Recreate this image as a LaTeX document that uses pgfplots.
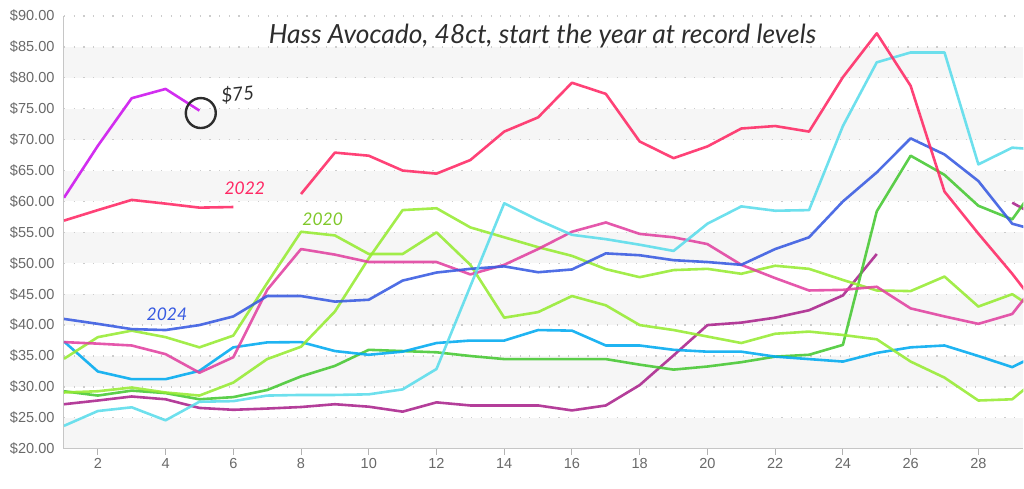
\documentclass[border=0pt]{standalone}
\usepackage{fontspec}
\setmainfont{Liberation Sans}
\newfontfamily\hand{Lato}
\usepackage{pgfplots}
\pgfplotsset{compat=1.18}
\definecolor{cViolet}{RGB}{204,17,238}
\definecolor{cRed}{RGB}{255,40,100}
\definecolor{cCyan}{RGB}{90,220,235}
\definecolor{cBlue}{RGB}{55,90,225}
\definecolor{cLime}{RGB}{150,235,50}
\definecolor{cPink}{RGB}{225,65,160}
\definecolor{cSky}{RGB}{0,170,240}
\definecolor{cGreen}{RGB}{70,200,50}
\definecolor{cPlum}{RGB}{170,35,140}
\definecolor{band}{RGB}{246,246,246}
\definecolor{tickgray}{RGB}{105,105,105}
\definecolor{inkgray}{RGB}{45,45,45}
\begin{document}
\begin{tikzpicture}
\path (0,0) rectangle (1024bp,489bp);
\begin{axis}[
  set layers=standard,
  at={(64bp,40bp)}, anchor=south west,
  scale only axis, width=960bp, height=433bp,
  xmin=1, xmax=29.33, ymin=20, ymax=90,
  axis x line*=bottom, axis y line*=left,
  axis line style={draw=gray!45, line width=1bp},
  ytick={20,25,...,90},
  yticklabels={\$20.00,\$25.00,\$30.00,\$35.00,\$40.00,\$45.00,\$50.00,\$55.00,\$60.00,\$65.00,\$70.00,\$75.00,\$80.00,\$85.00,\$90.00},
  xtick={2,4,...,28},
  xticklabels={2,4,6,8,10,12,14,16,18,20,22,24,26,28},
  ymajorgrids,
  major grid style={draw=gray!40, line width=1.2bp, dash pattern=on 1.2bp off 8.5bp},
  y tick style={draw=none},
  x tick style={draw=gray!60, line width=1bp},
  tick align=outside, major tick length=6bp,
  tick label style={font=\fontsize{14.6}{16}\selectfont, text=tickgray},
  unbounded coords=jump,
  every axis plot/.append style={line width=2.6bp, opacity=0.88, line join=round},
]
\begin{pgfonlayer}{axis background}
\fill[band] (axis cs:1,20) rectangle (axis cs:29.33,25);
\fill[band] (axis cs:1,30) rectangle (axis cs:29.33,35);
\fill[band] (axis cs:1,40) rectangle (axis cs:29.33,45);
\fill[band] (axis cs:1,50) rectangle (axis cs:29.33,55);
\fill[band] (axis cs:1,60) rectangle (axis cs:29.33,65);
\fill[band] (axis cs:1,70) rectangle (axis cs:29.33,75);
\fill[band] (axis cs:1,80) rectangle (axis cs:29.33,85);
\end{pgfonlayer}

% plum
\addplot[cPlum] coordinates {(1,27.2)(2,27.8)(3,28.45)(4,28.0)(5,26.6)(6,26.3)(7,26.5)(8,26.75)(9,27.2)(10,26.8)(11,26.0)(12,27.5)(13,27.0)(14,27.0)(15,27.0)(16,26.2)(17,27.0)(18,30.3)(19,35.1)(20,40.0)(21,40.4)(22,41.2)(23,42.4)(24,44.8)(25,51.5)};
\addplot[cPlum] coordinates {(29,59.8)(30,56.8)};
% green
\addplot[cGreen] coordinates {(1,29.3)(2,28.6)(3,29.4)(4,29.0)(5,28.0)(6,28.35)(7,29.5)(8,31.7)(9,33.4)(10,36.0)(11,35.8)(12,35.6)(13,35.0)(14,34.5)(15,34.5)(16,34.5)(17,34.5)(18,33.6)(19,32.8)(20,33.3)(21,34.0)(22,34.9)(23,35.2)(24,36.8)(25,58.4)(26,67.4)(27,64.3)(28,59.3)(29,57.1)(30,64.7)};
% sky blue
\addplot[cSky] coordinates {(1,37.35)(2,32.5)(3,31.25)(4,31.25)(5,32.6)(6,36.4)(7,37.2)(8,37.25)(9,35.8)(10,35.2)(11,35.7)(12,37.1)(13,37.5)(14,37.5)(15,39.2)(16,39.1)(17,36.7)(18,36.7)(19,36.0)(20,35.7)(21,35.7)(22,34.9)(23,34.5)(24,34.1)(25,35.5)(26,36.4)(27,36.7)(28,35.0)(29,33.2)(30,35.9)};
% lime B
\addplot[cLime] coordinates {(1,29.1)(2,29.3)(3,29.9)(4,29.1)(5,28.6)(6,30.7)(7,34.5)(8,36.5)(9,42.2)(10,50.8)(11,58.6)(12,58.9)(13,55.8)(14,54.2)(15,52.6)(16,51.2)(17,49.05)(18,47.75)(19,48.9)(20,49.1)(21,48.3)(22,49.6)(23,49.1)(24,47.3)(25,45.6)(26,45.5)(27,47.85)(28,43.0)(29,45.0)(30,41.4)};
% lime A (2020)
\addplot[cLime] coordinates {(1,34.55)(2,38.05)(3,39.1)(4,38.05)(5,36.4)(6,38.3)(7,46.8)(8,55.1)(9,54.5)(10,51.5)(11,51.5)(12,55.0)(13,49.75)(14,41.2)(15,42.1)(16,44.7)(17,43.2)(18,40.0)(19,39.2)(20,38.15)(21,37.1)(22,38.6)(23,38.95)(24,38.4)(25,37.7)(26,34.1)(27,31.5)(28,27.8)(29,28.0)(30,32.5)};
% pink
\addplot[cPink] coordinates {(1,37.25)(2,37.0)(3,36.7)(4,35.3)(5,32.3)(6,34.8)(7,45.7)(8,52.3)(9,51.4)(10,50.2)(11,50.2)(12,50.2)(13,48.2)(14,49.75)(15,52.3)(16,55.1)(17,56.6)(18,54.75)(19,54.2)(20,53.1)(21,49.75)(22,47.6)(23,45.6)(24,45.7)(25,46.2)(26,42.7)(27,41.4)(28,40.2)(29,41.8)(30,48.8)};
% blue 2024
\addplot[cBlue] coordinates {(1,41.0)(2,40.2)(3,39.35)(4,39.2)(5,40.0)(6,41.4)(7,44.7)(8,44.7)(9,43.8)(10,44.1)(11,47.2)(12,48.5)(13,49.1)(14,49.5)(15,48.55)(16,49.0)(17,51.6)(18,51.3)(19,50.5)(20,50.2)(21,49.75)(22,52.3)(23,54.2)(24,60.0)(25,64.7)(26,70.2)(27,67.6)(28,63.3)(29,56.4)(30,54.9)};
% cyan
\addplot[cCyan] coordinates {(1,23.7)(2,26.1)(3,26.7)(4,24.6)(5,27.6)(6,27.7)(7,28.6)(8,28.7)(9,28.7)(10,28.8)(11,29.6)(12,32.9)(13,46.3)(14,59.7)(15,57.0)(16,54.6)(17,53.9)(18,53.0)(19,52.0)(20,56.4)(21,59.2)(22,58.5)(23,58.6)(24,72.2)(25,82.5)(26,84.1)(27,84.1)(28,66.0)(29,68.7)(30,68.3)};
% red 2022
\addplot[cRed] coordinates {(1,56.9)(2,58.6)(3,60.25)(4,59.65)(5,59.0)(6,59.1)(7,nan)(8,61.2)(9,67.9)(10,67.4)(11,65.0)(12,64.5)(13,66.7)(14,71.3)(15,73.6)(16,79.2)(17,77.4)(18,69.7)(19,67.0)(20,68.9)(21,71.8)(22,72.2)(23,71.3)(24,80.1)(25,87.2)(26,78.7)(27,61.6)(28,54.8)(29,48.3)(30,41.2)};
% violet 2025
\addplot[cViolet] coordinates {(1,60.6)(2,69.0)(3,76.7)(4,78.2)(5,74.7)};

% circle annotation
\addplot[only marks, mark=o, mark size=15bp, mark options={line width=2.4bp, draw=inkgray}, opacity=1] coordinates {(5.04,74.3)};

\node[font=\hand\itshape\fontsize{26.5}{30}\selectfont, text=inkgray] at (axis cs:15.13,86.7) {Hass Avocado, 48ct, start the year at record levels};
\node[font=\hand\itshape\fontsize{19}{22}\selectfont, text=inkgray, rotate=6] at (axis cs:6.13,77.3) {\$75};
\node[font=\hand\itshape\fontsize{17.5}{20}\selectfont, text=cRed] at (axis cs:6.34,62.2) {2022};
\node[font=\hand\itshape\fontsize{17.5}{20}\selectfont, text=cLime!85!black] at (axis cs:8.64,57.2) {2020};
\node[font=\hand\itshape\fontsize{17.5}{20}\selectfont, text=cBlue] at (axis cs:4.04,41.8) {2024};
\end{axis}
\end{tikzpicture}
\end{document}
